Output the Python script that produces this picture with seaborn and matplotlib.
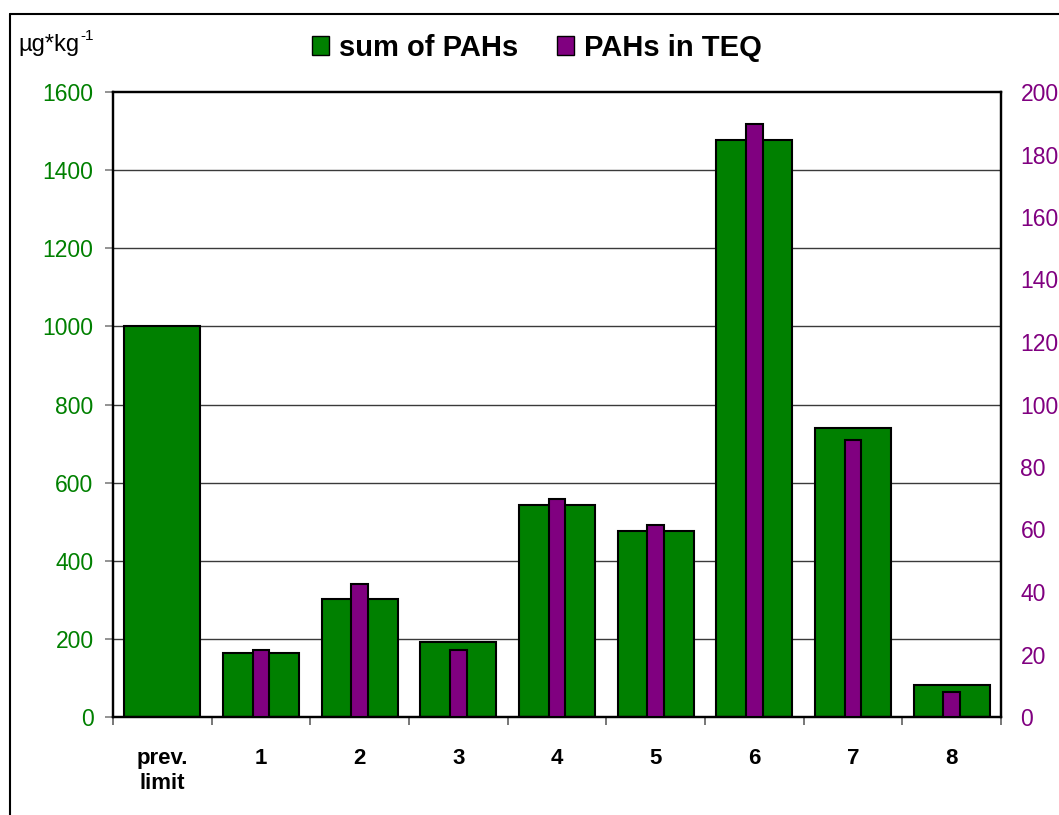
import numpy as np
import pandas as pd
import matplotlib
matplotlib.use("Agg")
import matplotlib.pyplot as plt
import seaborn as sns
from matplotlib.patches import Patch
from matplotlib.ticker import FixedLocator

sns.set_theme(style="white")
plt.rcParams['font.family'] = ['Liberation Sans', 'DejaVu Sans']
plt.rcParams['text.color'] = 'black'
plt.rcParams['xtick.color'] = 'black'
plt.rcParams['ytick.color'] = 'black'

categories = ["prev.\nlimit", "1", "2", "3", "4", "5", "6", "7", "8"]
sum_pahs = [1000, 163, 302, 192, 543, 476, 1477, 740, 82]
pahs_teq = [np.nan, 21.6, 42.7, 21.6, 69.9, 61.3, 189.7, 88.5, 8.1]

green = "#008000"
purple = "#800080"

df = pd.DataFrame({"cat": categories, "sum": sum_pahs, "teq": pahs_teq})

fig = plt.figure(figsize=(10.59, 8.15), dpi=100)
ax = fig.add_axes([113/1059, 1-717/815, (1001-113)/1059, (717-92)/815])

for y in [200, 400, 600, 800, 1000, 1200, 1400]:
    ax.axhline(y, color="#3a3a3a", lw=1.0, zorder=0)

sns.barplot(data=df, x="cat", y="sum", order=categories, color=green, width=0.77,
            edgecolor="black", linewidth=1.5, saturation=1, ax=ax, zorder=2)
ax.set_ylim(0, 1600)
ax.set_xlim(-0.5, 8.5)
ax.set_yticks(np.arange(0, 1601, 200))
ax.set_xlabel("")
ax.set_ylabel("")

ax2 = ax.twinx()
sns.barplot(data=df, x="cat", y="teq", order=categories, color=purple, width=0.17,
            edgecolor="black", linewidth=1.5, saturation=1, ax=ax2, zorder=3)
ax2.set_ylim(0, 200)
ax2.set_yticks(np.arange(0, 201, 20))
ax2.set_xlim(-0.5, 8.5)
ax2.set_ylabel("")
ax2.set_xlabel("")

for a in (ax, ax2):
    for s in a.spines.values():
        s.set_color("black")
        s.set_linewidth(1.6)

ax.tick_params(axis="y", which="major", left=True, length=6, width=1.2, color="#808080",
               labelsize=16.5, labelcolor=green, pad=8)
ax2.tick_params(axis="y", right=False, length=0, labelsize=16.5, labelcolor=purple, pad=14)
ax.set_xticks(range(len(categories)))
ax.set_xticklabels(categories, fontweight="bold", fontsize=16, linespacing=1.3,
                   color="black")
ax.tick_params(axis="x", which="major", length=0, pad=22)
ax.xaxis.set_minor_locator(FixedLocator(np.arange(-0.5, 9.0, 1.0)))
ax.tick_params(axis="x", which="minor", bottom=True, length=6, width=1.2, color="#606060")
ax2.tick_params(axis="x", bottom=False, labelbottom=False)

handles = [Patch(facecolor=green, edgecolor="black", label="sum of PAHs"),
           Patch(facecolor=purple, edgecolor="black", label="PAHs in TEQ")]
leg = fig.legend(handles=handles, loc="center", bbox_to_anchor=(537/1059, 1-48/815), ncol=2,
                 frameon=False, prop={"weight": "bold", "size": 21}, handlelength=0.6,
                 handleheight=0.6, handletextpad=0.35, columnspacing=1.3)
for t in leg.get_texts():
    t.set_color("black")

main = fig.text(18/1059, 1-51/815, "µg*kg", fontsize=17, ha="left", va="baseline",
                color="black")
fig.canvas.draw()
bb = main.get_window_extent(renderer=fig.canvas.get_renderer())
fig.text((bb.x1 + 1)/1059, 1-40/815, "-1", fontsize=11, ha="left", va="baseline",
         color="black")

# outer frame (left and top edges visible)
fig.add_artist(plt.Line2D([9.5/1059, 9.5/1059], [0, 1-14/815], color="black", lw=1.5,
                          transform=fig.transFigure))
fig.add_artist(plt.Line2D([9.5/1059, 1], [1-14/815, 1-14/815], color="black", lw=1.5,
                          transform=fig.transFigure))

fig.savefig("out.png", dpi=100)
